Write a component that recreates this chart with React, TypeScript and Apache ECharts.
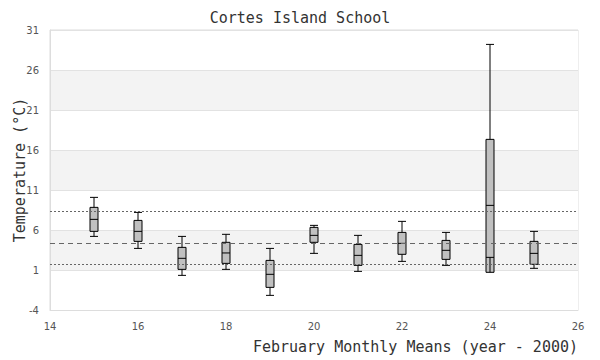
import React, { useEffect, useRef } from "react";
import * as echarts from "echarts";

const years = [15, 16, 17, 18, 19, 20, 21, 22, 23, 24, 25];
const mins = [5.2, 3.7, 0.33, 1.08, -2.17, 3.08, 0.83, 2.08, 1.58, 2.58, 1.21];
const q1s = [5.83, 4.58, 1.08, 1.83, -1.17, 4.46, 1.58, 2.96, 2.33, 0.71, 1.71];
const medians = [7.33, 5.83, 2.46, 3.13, 0.46, 5.33, 2.83, 4.33, 3.46, 9.08, 3.08];
const q3s = [8.83, 7.2, 3.83, 4.46, 2.2, 6.33, 4.2, 5.7, 4.7, 17.33, 4.58];
const maxs = [10.08, 8.2, 5.2, 5.46, 3.7, 6.58, 5.33, 7.08, 5.7, 29.2, 5.83];

const meanLine = 4.33;
const upperLine = 8.33;
const lowerLine = 1.71;

const yTicks = [-4, 1, 6, 11, 16, 21, 26, 31];

const mono = "DejaVu Sans Mono";

export default function App() {
  const ref = useRef<HTMLDivElement>(null);
  useEffect(() => {
    if (!ref.current) return;
    const chart = echarts.init(ref.current, null, { renderer: "svg" });
    const data = years.map((y, i) => [y, mins[i], q1s[i], medians[i], q3s[i], maxs[i]]);
    chart.setOption({
      animation: false,
      title: {
        text: "Cortes Island School",
        left: "center",
        top: 5,
        textStyle: { fontFamily: mono, fontSize: 15, fontWeight: "normal", color: "#333" },
      },
      graphic: [
        {
          type: "text",
          right: 22,
          top: 339,
          style: {
            text: "February Monthly Means (year - 2000)",
            fontFamily: mono,
            fontSize: 15,
            fill: "#333",
          },
        },
      ],
      grid: {
        left: 50,
        right: 22,
        top: 30,
        bottom: 50,
        show: true,
        borderColor: "#ddd",
        borderWidth: 1,
        containLabel: false,
        outerBoundsMode: "none",
      },
      xAxis: {
        type: "value",
        min: 14,
        max: 26,
        interval: 2,
        axisLine: { onZero: false, lineStyle: { color: "#ddd" } },
        axisTick: { show: false },
        splitLine: { show: false },
        axisLabel: { fontFamily: "DejaVu Sans", fontSize: 10, color: "#555", margin: 11 },
      },
      yAxis: {
        type: "value",
        min: -4,
        max: 31,
        name: "Temperature (°C)",
        nameLocation: "middle",
        nameGap: 23,
        nameMoveOverlap: false,
        nameTextStyle: { fontFamily: mono, fontSize: 15, color: "#333" },
        axisLine: { show: true, lineStyle: { color: "#ddd" } },
        axisTick: { show: false, customValues: yTicks },
        axisLabel: { fontFamily: "DejaVu Sans", fontSize: 10, color: "#555", margin: 11, customValues: yTicks },
        splitLine: { show: true, lineStyle: { color: "#e2e2e2" } },
        splitArea: { show: true, areaStyle: { color: ["#ffffff", "#f3f3f3"] } },
      },
      series: [
        {
          type: "boxplot",
          data,
          boxWidth: [8, 8],
          itemStyle: { color: "#c0c0c0", borderColor: "#000", borderWidth: 1 },
          markLine: {
            silent: true,
            symbol: ["none", "none"],
            label: { show: false },
            data: [
              { yAxis: meanLine, lineStyle: { type: [5, 4], color: "#666", width: 1 } },
              { yAxis: upperLine, lineStyle: { type: [2, 2], color: "#666", width: 1 } },
              { yAxis: lowerLine, lineStyle: { type: [2, 2], color: "#666", width: 1 } },
            ],
          },
        },
      ],
    });
    return () => chart.dispose();
  }, []);
  return <div ref={ref} style={{ width: 600, height: 360, position: "absolute", left: 0, top: 0 }} />;
}
